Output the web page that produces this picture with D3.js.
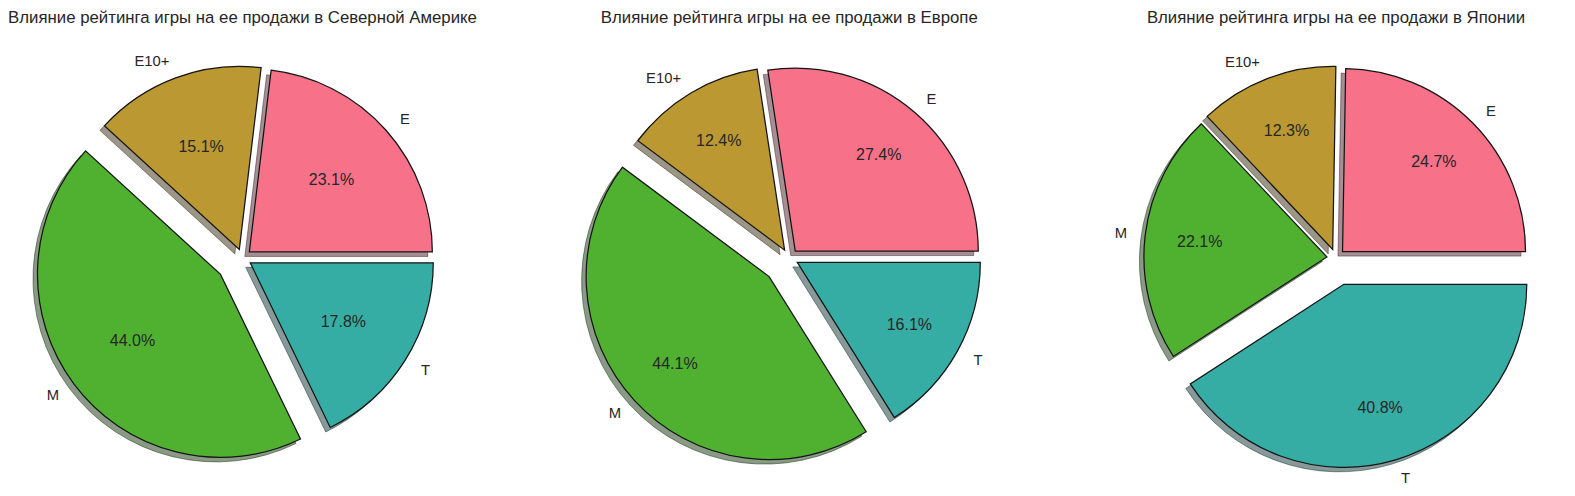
<!DOCTYPE html>
<html>
<head>
<meta charset="utf-8">
<script src="https://cdn.jsdelivr.net/npm/d3@7"></script>
<style>
  html, body { margin: 0; padding: 0; background: #ffffff; }
  svg { display: block; }
  text { font-family: "Liberation Sans", Arial, sans-serif; fill: #262626; }
</style>
</head>
<body>
<svg id="chart" width="1575" height="496"></svg>
<script>
// ---- data ----
const categories = ["E", "E10+", "M", "T"];
const naShares = [23.1, 15.1, 44.0, 17.8];
const euShares = [27.4, 12.4, 44.1, 16.1];
const jpShares = [24.7, 12.3, 22.1, 40.8];
const titles = [
  "Влияние рейтинга игры на ее продажи в Северной Америке",
  "Влияние рейтинга игры на ее продажи в Европе",
  "Влияние рейтинга игры на ее продажи в Японии"
];
const colors = ["#f77189", "#bb9832", "#50b131", "#36ada4"];

// ---- layout / style ----
const panels = [
  { values: naShares, title: titles[0], cx: 242.5, pctDist: 0.6 },
  { values: euShares, title: titles[1], cx: 789.3, pctDist: 0.7 },
  { values: jpShares, title: titles[2], cx: 1336, pctDist: 0.7 }
];
const cy = 258;
const radius = 183;
const labelDist = 1.1;
const shadowDx = -4.5, shadowDy = 4.5;

const svg = d3.select("#chart");

const color = d3.scaleOrdinal().domain(categories).range(colors);
const pie = d3.pie()
  .sort(null)
  .value(d => d.value)
  .startAngle(Math.PI / 2)
  .endAngle(Math.PI / 2 - 2 * Math.PI);
const arc = d3.arc().innerRadius(0).outerRadius(radius);

function shadowColor(c) {
  const rgb = d3.rgb(c);
  return d3.rgb(rgb.r * 0.3, rgb.g * 0.3, rgb.b * 0.3).formatHex();
}

panels.forEach(p => {
  const data = categories.map((k, i) => ({ key: k, value: p.values[i] }));
  const arcs = pie(data);
  const maxVal = d3.max(p.values);
  arcs.forEach(a => {
    a.explode = a.data.value === maxVal ? 0.15 : 0.05;
    a.mid = (a.startAngle + a.endAngle) / 2;
    a.ux = Math.sin(a.mid);
    a.uy = -Math.cos(a.mid);
    a.ox = a.ux * a.explode * radius;
    a.oy = a.uy * a.explode * radius;
  });

  const g = svg.append("g").attr("transform", `translate(${p.cx},${cy})`);

  // shadows
  g.append("g").selectAll("path.shadow")
    .data(arcs).join("path")
    .attr("class", "shadow")
    .attr("d", arc)
    .attr("transform", d => `translate(${d.ox + shadowDx},${d.oy + shadowDy})`)
    .attr("fill", d => shadowColor(color(d.data.key)))
    .attr("fill-opacity", 0.5)
    .attr("stroke", d => shadowColor(color(d.data.key)))
    .attr("stroke-opacity", 0.5)
    .attr("stroke-width", 1);

  // wedges
  g.append("g").selectAll("path.wedge")
    .data(arcs).join("path")
    .attr("class", "wedge")
    .attr("d", arc)
    .attr("transform", d => `translate(${d.ox},${d.oy})`)
    .attr("fill", d => color(d.data.key))
    .attr("stroke", "#141414")
    .attr("stroke-width", 1.25)
    .attr("stroke-linejoin", "miter");

  // category labels
  g.append("g").selectAll("text.lab")
    .data(arcs).join("text")
    .attr("class", "lab")
    .attr("x", d => d.ox + d.ux * labelDist * radius)
    .attr("y", d => d.oy + d.uy * labelDist * radius)
    .attr("dy", "0.35em")
    .attr("text-anchor", d => d.ux > 0 ? "start" : "end")
    .style("font-size", "14.8px")
    .text(d => d.data.key);

  // percentage labels
  g.append("g").selectAll("text.pct")
    .data(arcs).join("text")
    .attr("class", "pct")
    .attr("x", d => d.ox + d.ux * p.pctDist * radius)
    .attr("y", d => d.oy + d.uy * p.pctDist * radius)
    .attr("dy", "0.35em")
    .attr("text-anchor", "middle")
    .style("font-size", "16px")
    .text(d => d.data.value.toFixed(1) + "%");

  // title
  svg.append("text")
    .attr("x", p.cx)
    .attr("y", 23)
    .attr("text-anchor", "middle")
    .style("font-size", "16.8px")
    .text(p.title);
});
</script>
</body>
</html>
